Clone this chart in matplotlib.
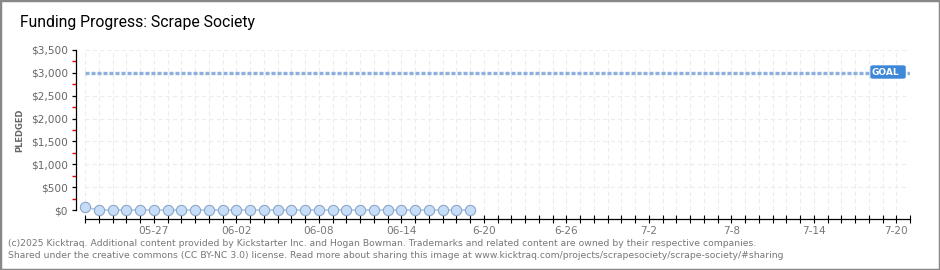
import matplotlib
matplotlib.use("Agg")
import matplotlib.pyplot as plt
from matplotlib.patches import Rectangle, FancyBboxPatch
from matplotlib.ticker import FixedLocator, MultipleLocator, FuncFormatter

# ---- data ----
n_days_axis = 60  # 05-22 .. 07-21
tick_label_days = [5, 11, 17, 23, 29, 35, 41, 47, 53, 59]
tick_labels = ["05-27", "06-02", "06-08", "06-14", "6-20", "6-26", "7-2", "7-8", "7-14", "7-20"]
pledged = [60] + [0] * 28   # daily cumulative pledged, 05-22 .. 06-19
goal = 3000
y_max = 3500

W, H = 940, 270
fig = plt.figure(figsize=(W / 100, H / 100), dpi=100)
fig.patch.set_facecolor("white")

def fx(px):
    return px / W

def fy(py):
    return 1 - py / H

ax = fig.add_axes([fx(85), fy(210), fx(910) - fx(85), fy(50) - fy(210)])
ax.set_xlim(0, n_days_axis)
ax.set_ylim(0, y_max)
ax.set_facecolor("white")

for s in ["top", "right"]:
    ax.spines[s].set_visible(False)
ax.spines["left"].set_position(("outward", 9 * 0.72))
ax.spines["bottom"].set_position(("outward", 9 * 0.72))
for s in ["left", "bottom"]:
    ax.spines[s].set_color("black")
    ax.spines[s].set_linewidth(0.9)

ax.xaxis.set_major_locator(FixedLocator(tick_label_days))
ax.set_xticklabels(tick_labels)
ax.xaxis.set_minor_locator(FixedLocator([d for d in range(n_days_axis + 1) if d not in tick_label_days]))
ax.tick_params(axis="x", which="both", direction="inout", length=8 * 0.72, width=0.8, color="black",
               labelsize=7.6, labelcolor="#777777", pad=2)

ax.yaxis.set_major_locator(MultipleLocator(500))
ax.yaxis.set_minor_locator(FixedLocator([v for v in range(250, y_max, 500)]))
ax.yaxis.set_major_formatter(FuncFormatter(lambda v, p: "${:,.0f}".format(v)))
ax.tick_params(axis="y", which="major", direction="out", length=4 * 0.72, width=0.9, color="black",
               labelsize=7.6, labelcolor="#666666", pad=3)
ax.tick_params(axis="y", which="minor", direction="out", length=4 * 0.72, width=1.0, color="#ee0000")

for d in range(n_days_axis + 1):
    ax.axvline(d, color="#ececec", lw=0.75, ls=(0, (4, 3)), zorder=0)
for v in range(0, y_max + 1, 500):
    ax.axhline(v, color="#ececec", lw=0.75, ls=(0, (4, 3)), zorder=0)

ax.plot([0, n_days_axis], [goal, goal], color="#8eb0dc", lw=2.4, ls=(0, (1.2, 0.6)), zorder=2,
        solid_capstyle="butt", dash_capstyle="butt")

days = list(range(len(pledged)))
ax.plot(days, pledged, color="#a9c9ef", lw=1.2, zorder=3, clip_on=False)
ax.plot(days, pledged, ls="none", marker="o", ms=7.4, mfc="#c7ddf7", mec="#8aa6c8", mew=0.8,
        zorder=4, clip_on=False)

gb = FancyBboxPatch((fx(871), fy(78)), fx(905) - fx(871), fy(66) - fy(78),
                    boxstyle="round,pad=0,rounding_size=0.003", transform=fig.transFigure,
                    facecolor="#3d87d8", edgecolor="#3d87d8", zorder=5)
fig.patches.append(gb)
fig.text(fx(885), fy(72.5), "GOAL", color="white", fontsize=6.5, fontweight="bold",
         ha="center", va="center", zorder=6)

fig.text(fx(20), fy(130), "PLEDGED", rotation=90, color="#666666", fontsize=6,
         ha="center", va="center", fontweight="bold")

fig.text(fx(20), fy(23), "Funding Progress: Scrape Society", fontsize=11.3, color="#000000",
         ha="left", va="center", family=["Roboto", "DejaVu Sans"])

foot_kw = dict(fontsize=6.65, color="#777777", ha="left", va="center")
fig.text(fx(8), fy(243), "(c)2025 Kicktraq. Additional content provided by Kickstarter Inc. and Hogan Bowman. "
         "Trademarks and related content are owned by their respective companies.", **foot_kw)
fig.text(fx(8), fy(256), "Shared under the creative commons (CC BY-NC 3.0) license. Read more about sharing this "
         "image at www.kicktraq.com/projects/scrapesociety/scrape-society/#sharing", **foot_kw)

fig.patches.append(Rectangle((0, 0), 1, 1, transform=fig.transFigure, fill=False,
                             edgecolor="#888888", lw=2.5))

fig.savefig("out.png", dpi=100)
